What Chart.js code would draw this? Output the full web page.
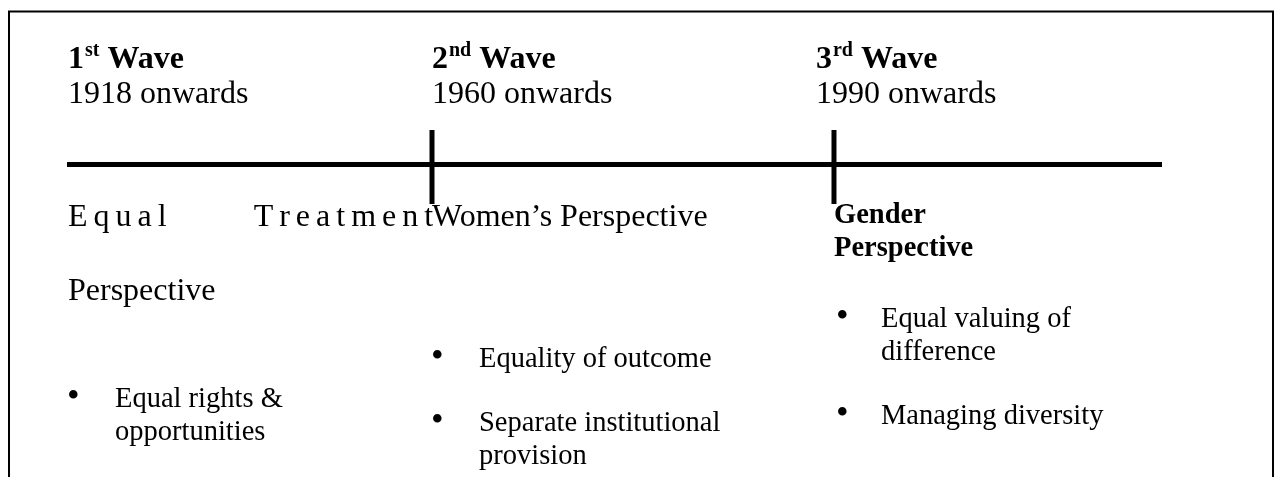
<!DOCTYPE html>
<html>
<head>
<meta charset="utf-8">
<script src="https://cdn.jsdelivr.net/npm/chart.js@4.4.0/dist/chart.umd.min.js"></script>
<style>
  html, body { margin: 0; padding: 0; background: #fff; }
  #wrap { width: 1279px; height: 477px; position: relative; }
</style>
</head>
<body>
<div id="wrap"><canvas id="waves"></canvas></div>
<script>
// Data
const waveNumbers = ['1', '2', '3'];
const waveSuffixes = ['st', 'nd', 'rd'];
const startYears = [1918, 1960, 1990];
const perspectives = ['Equal Treatment Perspective', 'Women\u2019s Perspective', 'Gender Perspective'];
const keyPoints = [
    ['Equal rights & opportunities'],
    ['Equality of outcome', 'Separate institutional provision'],
    ['Equal valuing of difference', 'Managing diversity']
];

// Layout
const X_MIN = 1932.76, X_MAX = 2014.48;   // visible span of the timeline
const Y_MIN = -1.07, Y_MAX = 0.93;
const SERIF = "'Liberation Serif', 'Times New Roman', serif";
const headerNudge = [0, 0, -18];
const headingStyle = [
    { bold: false, size: 32, wrap: 364, base: 226, gap: 74, justify: true },
    { bold: false, size: 32, wrap: 400, base: 226, gap: 33, justify: false },
    { bold: true, size: 28.5, wrap: 200, base: 223, gap: 33, justify: false }
];
const listTop = [407, 367, 327];

function wrapWords(ctx, text, maxWidth) {
    const lines = [];
    let line = '';
    text.split(' ').forEach(word => {
        const test = line ? line + ' ' + word : word;
        if (line && ctx.measureText(test).width > maxWidth) {
            lines.push(line);
            line = word;
        } else {
            line = test;
        }
    });
    if (line) lines.push(line);
    return lines;
}

function spacedWidth(ctx, word, ls) {
    return ctx.measureText(word).width + ls * (word.length - 1);
}

function drawSpaced(ctx, word, x, y, ls) {
    for (const ch of word) {
        ctx.fillText(ch, x, y);
        x += ctx.measureText(ch).width + ls;
    }
}

// Frame + texts
const diagramText = {
    id: 'diagramText',
    beforeDraw(chart) {
        const ctx = chart.ctx;
        ctx.save();
        ctx.strokeStyle = '#000';
        ctx.lineWidth = 2;
        ctx.beginPath();
        ctx.moveTo(9, chart.height + 5);
        ctx.lineTo(9, 11.5);
        ctx.lineTo(1273, 11.5);
        ctx.lineTo(1273, chart.height + 5);
        ctx.stroke();
        ctx.restore();
    },
    afterDraw(chart) {
        const { ctx, chartArea, scales: { x } } = chart;
        const anchors = startYears.map(yr => Math.max(x.getPixelForValue(yr), chartArea.left + 1));
        ctx.save();
        ctx.fillStyle = '#000';
        ctx.textBaseline = 'alphabetic';
        ctx.textAlign = 'left';

        anchors.forEach((ax, i) => {
            // wave header
            let hx = ax + headerNudge[i];
            ctx.font = `bold 32px ${SERIF}`;
            ctx.fillText(waveNumbers[i], hx, 68);
            hx += ctx.measureText(waveNumbers[i]).width + 1;
            ctx.font = `bold 20px ${SERIF}`;
            ctx.fillText(waveSuffixes[i], hx, 56);
            hx += ctx.measureText(waveSuffixes[i]).width;
            ctx.font = `bold 32px ${SERIF}`;
            ctx.fillText(' Wave', hx, 68);
            ctx.font = `32px ${SERIF}`;
            ctx.fillText(`${startYears[i]} onwards`, ax + headerNudge[i], 103);

            // perspective heading
            const st = headingStyle[i];
            ctx.font = `${st.bold ? 'bold ' : ''}${st.size}px ${SERIF}`;
            const lines = wrapWords(ctx, perspectives[i], st.wrap);
            lines.forEach((ln, k) => {
                const y = st.base + k * st.gap;
                if (st.justify && k < lines.length - 1) {
                    const words = ln.split(' ');
                    const ls = 6;
                    const right = anchors[i + 1] || chartArea.right;
                    drawSpaced(ctx, words[0], ax, y, ls);
                    const lastW = spacedWidth(ctx, words[words.length - 1], ls);
                    drawSpaced(ctx, words[words.length - 1], right - lastW, y, ls);
                } else {
                    ctx.fillText(ln, ax, y);
                }
            });

            // key points
            let y = listTop[i];
            keyPoints[i].forEach(item => {
                ctx.font = `36px ${SERIF}`;
                ctx.fillText('\u2022', ax - 1 + (i === 2 ? 3 : 0), y);
                ctx.font = `28.5px ${SERIF}`;
                wrapWords(ctx, item, 290).forEach(ln => {
                    ctx.fillText(ln, ax + 47, y);
                    y += 33;
                });
                y += 31;
            });
        });
        ctx.restore();
    }
};

const lineStyle = {
    borderColor: '#000',
    borderWidth: 5,
    borderCapStyle: 'butt',
    pointRadius: 0,
    fill: false,
    clip: false
};

const timeline = { ...lineStyle, label: 'Timeline', data: [{ x: X_MIN, y: 0 }, { x: X_MAX, y: 0 }] };
const markers = startYears.slice(1).map(yr => ({
    ...lineStyle,
    label: String(yr),
    data: [{ x: yr, y: Y_MIN }, { x: yr, y: Y_MAX }]
}));

new Chart(document.getElementById('waves'), {
    type: 'line',
    data: { datasets: [timeline, ...markers] },
    options: {
        responsive: true,
        maintainAspectRatio: false,
        animation: false,
        events: [],
        layout: { padding: { left: 67, right: 117, top: 130, bottom: 273 } },
        scales: {
            x: { type: 'linear', min: X_MIN, max: X_MAX, display: false },
            y: { type: 'linear', min: Y_MIN, max: Y_MAX, display: false }
        },
        plugins: {
            legend: { display: false },
            tooltip: { enabled: false }
        }
    },
    plugins: [diagramText]
});
</script>
</body>
</html>
